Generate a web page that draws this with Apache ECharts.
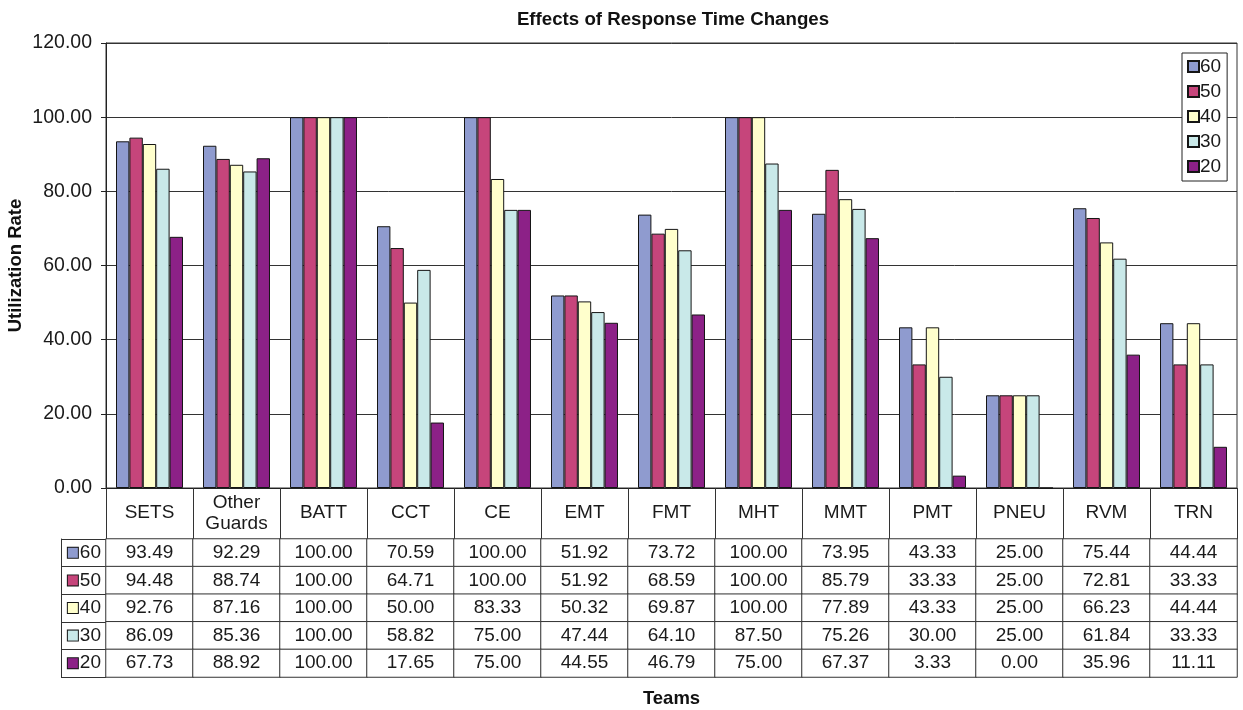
<!DOCTYPE html>
<html><head><meta charset="utf-8">
<script src="https://cdn.jsdelivr.net/npm/echarts@6/dist/echarts.min.js"></script>
<style>html,body{margin:0;padding:0;background:#fff}#c{width:1243px;height:710px}</style>
</head><body><div id="c"></div>
<script>
var categories = ['SETS','Other\nGuards','BATT','CCT','CE','EMT','FMT','MHT','MMT','PMT','PNEU','RVM','TRN'];
var seriesNames = ['60','50','40','30','20'];
var s60 = [93.49,92.29,100.00,70.59,100.00,51.92,73.72,100.00,73.95,43.33,25.00,75.44,44.44];
var s50 = [94.48,88.74,100.00,64.71,100.00,51.92,68.59,100.00,85.79,33.33,25.00,72.81,33.33];
var s40 = [92.76,87.16,100.00,50.00,83.33,50.32,69.87,100.00,77.89,43.33,25.00,66.23,44.44];
var s30 = [86.09,85.36,100.00,58.82,75.00,47.44,64.10,87.50,75.26,30.00,25.00,61.84,33.33];
var s20 = [67.73,88.92,100.00,17.65,75.00,44.55,46.79,75.00,67.37,3.33,0.00,35.96,11.11];
var yTicks = {min:0, max:120, interval:20};

var values = [s60,s50,s40,s30,s20];
var colors = ['#8F9BCF','#C6457B','#FFFFCC','#C9E9E9','#8C2187'];
var FONT = 'Liberation Sans, Arial, sans-serif';
var TXT = '#1a1a1a';
var FS = 19;

var chart = echarts.init(document.getElementById('c'));

var bars = seriesNames.map(function(n,i){
  return {
    name:n, type:'bar', xAxisIndex:0, yAxisIndex:0,
    data: values[i], barGap:'0%', barCategoryGap:'23%',
    itemStyle:{color:colors[i], borderColor:'#151515', borderWidth:1},
    emphasis:{disabled:true}, animation:false
  };
});

var cells = [];
values.forEach(function(arr,r){
  arr.forEach(function(v,c){ cells.push([c, r, v]); });
});

var rich = {};
seriesNames.forEach(function(n,i){
  rich['b'+i] = {width:10, height:10, backgroundColor:colors[i], borderColor:'#151515', borderWidth:1};
});
rich.t = {fontSize:FS, fontFamily:FONT, color:TXT, padding:[0,0,0,2]};

var option = {
  animation:false,
  backgroundColor:'#fff',
  title:{
    text:'Effects of Response Time Changes', left:668, top:5, textAlign:'center',
    textStyle:{fontSize:18.7, fontWeight:'bold', fontFamily:FONT, color:'#111'}
  },
  legend:{
    data:seriesNames, orient:'vertical', left:1182, top:53,
    itemWidth:11, itemHeight:11, itemGap:6,
    padding:[4,6,5,5], borderColor:'#222', borderWidth:1, backgroundColor:'#fff',
    icon:'rect',
    textStyle:{fontSize:FS, fontFamily:FONT, color:TXT, padding:[0,0,0,-4]},
    selectedMode:false
  },
  visualMap:{show:false, seriesIndex:5, min:0, max:100, inRange:{color:['#ffffff','#ffffff']}},
  grid:[
    {left:106, right:6, top:43, bottom:222, show:true, borderColor:'#333', borderWidth:1, containLabel:false, outerBoundsMode:'none'},
    {left:106, right:6, top:539, bottom:33, containLabel:false, outerBoundsMode:'none'}
  ],
  xAxis:[
    {type:'category', gridIndex:0, data:categories,
     axisLine:{lineStyle:{color:'#222', width:1}},
     axisTick:{show:true, interval:0, length:51, lineStyle:{color:'#333'}},
     axisLabel:{interval:0, fontSize:FS, fontFamily:FONT, color:TXT, margin:25, verticalAlign:'middle', lineHeight:21},
     splitLine:{show:false}},
    {type:'category', gridIndex:1, data:categories,
     axisLine:{show:false}, axisTick:{show:false}, axisLabel:{show:false}, splitLine:{show:false},
     name:'Teams', nameLocation:'middle', nameGap:12, nameMoveOverlap:false,
     nameTextStyle:{fontSize:18.5, fontWeight:'bold', fontFamily:FONT, color:'#111'}}
  ],
  yAxis:[
    {type:'value', gridIndex:0, min:yTicks.min, max:yTicks.max, interval:yTicks.interval,
     axisLine:{show:true, lineStyle:{color:'#222'}},
     axisTick:{show:true, length:5, lineStyle:{color:'#222'}},
     axisLabel:{fontSize:19.5, fontFamily:FONT, color:TXT, margin:14, formatter:function(v){return v.toFixed(2);}},
     splitLine:{show:true, lineStyle:{color:'#333', width:1}},
     name:'Utilization Rate', nameLocation:'middle', nameGap:81, nameMoveOverlap:false,
     nameTextStyle:{fontSize:18.5, fontWeight:'bold', fontFamily:FONT, color:'#111'}},
    {type:'category', gridIndex:1, data:seriesNames, inverse:true,
     axisLine:{show:false},
     axisTick:{show:true, interval:0, length:45, lineStyle:{color:'#333'}},
     axisLabel:{interval:0, margin:5, formatter:function(v,i){return '{b'+i+'|}{t|'+v+'}';}, rich:rich},
     splitLine:{show:false}},
    {type:'category', gridIndex:1, data:seriesNames, inverse:true, position:'left', offset:45,
     axisLine:{show:true, lineStyle:{color:'#333'}}, axisTick:{show:false}, axisLabel:{show:false}, splitLine:{show:false}}
  ],
  series: bars.concat([{
    type:'heatmap', xAxisIndex:1, yAxisIndex:1, data:cells,
    itemStyle:{color:'#fff', borderColor:'#333', borderWidth:1},
    label:{show:true, fontSize:FS, fontFamily:FONT, color:TXT,
      formatter:function(p){return p.value[2].toFixed(2);}},
    emphasis:{disabled:true}
  }])
};
chart.setOption(option);
</script></body></html>
